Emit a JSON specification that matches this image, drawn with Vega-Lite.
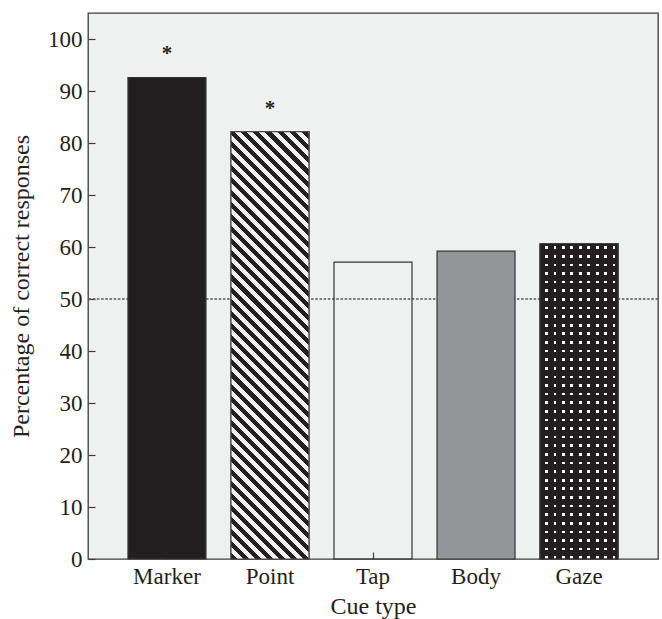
{
  "$schema": "https://vega.github.io/schema/vega-lite/v6.json",
  "width": 570,
  "height": 546,
  "autosize": {"type": "none"},
  "padding": {"left": 88, "top": 13, "right": 4, "bottom": 60},
  "background": "white",
  "config": {
    "font": "Liberation Serif",
    "view": {"fill": "#eff1f0", "stroke": "#3c3c3c", "strokeWidth": 1.3},
    "axis": {
      "domain": false, "grid": false, "tickColor": "#3c3c3c", "tickWidth": 1.2, "tickSize": -7,
      "labelFont": "Liberation Serif", "labelFontSize": 23, "labelColor": "#231f20",
      "titleFont": "Liberation Serif", "titleFontSize": 24, "titleFontWeight": "normal", "titleColor": "#231f20"
    }
  },
  "layer": [
    {
      "data": {"values": [{"ref": 50}]},
      "mark": {"type": "rule", "color": "#555555", "strokeWidth": 1.3, "strokeDash": [2.5, 1.7]},
      "encoding": {
        "y": {"field": "ref", "type": "quantitative", "scale": {"domain": [0, 105], "nice": false},
          "axis": {"title": "Percentage of correct responses", "values": [0, 10, 20, 30, 40, 50, 60, 70, 80, 90, 100], "labelPadding": 13, "titlePadding": 14}}
      }
    },
    {
      "data": {"values": [
        {"cue": "Marker", "pct": 92.6, "sig": "*"},
        {"cue": "Point", "pct": 82.2, "sig": "*"},
        {"cue": "Tap", "pct": 57.1, "sig": ""},
        {"cue": "Body", "pct": 59.2, "sig": ""},
        {"cue": "Gaze", "pct": 60.6, "sig": ""}
      ]},
      "encoding": {
        "x": {"field": "cue", "type": "nominal", "sort": null,
          "scale": {"domain": ["Marker", "Point", "Tap", "Body", "Gaze"], "paddingInner": 0.243, "paddingOuter": 0.388},
          "axis": {"title": "Cue type", "labelAngle": 0, "labelPadding": 13, "titlePadding": 6}},
        "y": {"field": "pct", "type": "quantitative", "scale": {"domain": [0, 105], "nice": false},
          "axis": {"title": "Percentage of correct responses", "values": [0, 10, 20, 30, 40, 50, 60, 70, 80, 90, 100], "labelPadding": 13, "titlePadding": 14}}
      },
      "layer": [
        {
          "mark": {"type": "bar", "stroke": "#333333", "strokeWidth": 1.2},
          "encoding": {
            "fill": {"field": "cue", "type": "nominal", "legend": null,
              "scale": {"domain": ["Marker", "Point", "Tap", "Body", "Gaze"], "range": ["#231f20", "#f0f1f0", "transparent", "#939598", "#ffffff"]}}
          }
        },
        {
          "transform": [{"filter": "datum.cue === 'Point'"}],
          "mark": {"type": "bar", "stroke": "#4a4a4a", "strokeWidth": 1.2,
            "fill": {"gradient": "linear", "x1": 0, "y1": 1, "x2": 0.2088, "y2": -0.1444, "stops": [
              {"offset": 0, "color": "#231f20"},
              {"offset": 0.012, "color": "#231f20"}, {"offset": 0.012, "color": "#f0f1f0"},
              {"offset": 0.024, "color": "#f0f1f0"}, {"offset": 0.024, "color": "#231f20"},
              {"offset": 0.036, "color": "#231f20"}, {"offset": 0.036, "color": "#f0f1f0"},
              {"offset": 0.048, "color": "#f0f1f0"}, {"offset": 0.048, "color": "#231f20"},
              {"offset": 0.06, "color": "#231f20"}, {"offset": 0.06, "color": "#f0f1f0"},
              {"offset": 0.072, "color": "#f0f1f0"}, {"offset": 0.072, "color": "#231f20"},
              {"offset": 0.084, "color": "#231f20"}, {"offset": 0.084, "color": "#f0f1f0"},
              {"offset": 0.096, "color": "#f0f1f0"}, {"offset": 0.096, "color": "#231f20"},
              {"offset": 0.108, "color": "#231f20"}, {"offset": 0.108, "color": "#f0f1f0"},
              {"offset": 0.12, "color": "#f0f1f0"}, {"offset": 0.12, "color": "#231f20"},
              {"offset": 0.132, "color": "#231f20"}, {"offset": 0.132, "color": "#f0f1f0"},
              {"offset": 0.144, "color": "#f0f1f0"}, {"offset": 0.144, "color": "#231f20"},
              {"offset": 0.156, "color": "#231f20"}, {"offset": 0.156, "color": "#f0f1f0"},
              {"offset": 0.168, "color": "#f0f1f0"}, {"offset": 0.168, "color": "#231f20"},
              {"offset": 0.18, "color": "#231f20"}, {"offset": 0.18, "color": "#f0f1f0"},
              {"offset": 0.192, "color": "#f0f1f0"}, {"offset": 0.192, "color": "#231f20"},
              {"offset": 0.204, "color": "#231f20"}, {"offset": 0.204, "color": "#f0f1f0"},
              {"offset": 0.216, "color": "#f0f1f0"}, {"offset": 0.216, "color": "#231f20"},
              {"offset": 0.228, "color": "#231f20"}, {"offset": 0.228, "color": "#f0f1f0"},
              {"offset": 0.24, "color": "#f0f1f0"}, {"offset": 0.24, "color": "#231f20"},
              {"offset": 0.252, "color": "#231f20"}, {"offset": 0.252, "color": "#f0f1f0"},
              {"offset": 0.264, "color": "#f0f1f0"}, {"offset": 0.264, "color": "#231f20"},
              {"offset": 0.276, "color": "#231f20"}, {"offset": 0.276, "color": "#f0f1f0"},
              {"offset": 0.288, "color": "#f0f1f0"}, {"offset": 0.288, "color": "#231f20"},
              {"offset": 0.3, "color": "#231f20"}, {"offset": 0.3, "color": "#f0f1f0"},
              {"offset": 0.312, "color": "#f0f1f0"}, {"offset": 0.312, "color": "#231f20"},
              {"offset": 0.324, "color": "#231f20"}, {"offset": 0.324, "color": "#f0f1f0"},
              {"offset": 0.336, "color": "#f0f1f0"}, {"offset": 0.336, "color": "#231f20"},
              {"offset": 0.348, "color": "#231f20"}, {"offset": 0.348, "color": "#f0f1f0"},
              {"offset": 0.36, "color": "#f0f1f0"}, {"offset": 0.36, "color": "#231f20"},
              {"offset": 0.372, "color": "#231f20"}, {"offset": 0.372, "color": "#f0f1f0"},
              {"offset": 0.384, "color": "#f0f1f0"}, {"offset": 0.384, "color": "#231f20"},
              {"offset": 0.396, "color": "#231f20"}, {"offset": 0.396, "color": "#f0f1f0"},
              {"offset": 0.408, "color": "#f0f1f0"}, {"offset": 0.408, "color": "#231f20"},
              {"offset": 0.42, "color": "#231f20"}, {"offset": 0.42, "color": "#f0f1f0"},
              {"offset": 0.432, "color": "#f0f1f0"}, {"offset": 0.432, "color": "#231f20"},
              {"offset": 0.444, "color": "#231f20"}, {"offset": 0.444, "color": "#f0f1f0"},
              {"offset": 0.456, "color": "#f0f1f0"}, {"offset": 0.456, "color": "#231f20"},
              {"offset": 0.468, "color": "#231f20"}, {"offset": 0.468, "color": "#f0f1f0"},
              {"offset": 0.48, "color": "#f0f1f0"}, {"offset": 0.48, "color": "#231f20"},
              {"offset": 0.492, "color": "#231f20"}, {"offset": 0.492, "color": "#f0f1f0"},
              {"offset": 0.504, "color": "#f0f1f0"}, {"offset": 0.504, "color": "#231f20"},
              {"offset": 0.516, "color": "#231f20"}, {"offset": 0.516, "color": "#f0f1f0"},
              {"offset": 0.528, "color": "#f0f1f0"}, {"offset": 0.528, "color": "#231f20"},
              {"offset": 0.54, "color": "#231f20"}, {"offset": 0.54, "color": "#f0f1f0"},
              {"offset": 0.552, "color": "#f0f1f0"}, {"offset": 0.552, "color": "#231f20"},
              {"offset": 0.564, "color": "#231f20"}, {"offset": 0.564, "color": "#f0f1f0"},
              {"offset": 0.576, "color": "#f0f1f0"}, {"offset": 0.576, "color": "#231f20"},
              {"offset": 0.588, "color": "#231f20"}, {"offset": 0.588, "color": "#f0f1f0"},
              {"offset": 0.6, "color": "#f0f1f0"}, {"offset": 0.6, "color": "#231f20"},
              {"offset": 0.612, "color": "#231f20"}, {"offset": 0.612, "color": "#f0f1f0"},
              {"offset": 0.624, "color": "#f0f1f0"}, {"offset": 0.624, "color": "#231f20"},
              {"offset": 0.636, "color": "#231f20"}, {"offset": 0.636, "color": "#f0f1f0"},
              {"offset": 0.648, "color": "#f0f1f0"}, {"offset": 0.648, "color": "#231f20"},
              {"offset": 0.66, "color": "#231f20"}, {"offset": 0.66, "color": "#f0f1f0"},
              {"offset": 0.672, "color": "#f0f1f0"}, {"offset": 0.672, "color": "#231f20"},
              {"offset": 0.684, "color": "#231f20"}, {"offset": 0.684, "color": "#f0f1f0"},
              {"offset": 0.696, "color": "#f0f1f0"}, {"offset": 0.696, "color": "#231f20"},
              {"offset": 0.708, "color": "#231f20"}, {"offset": 0.708, "color": "#f0f1f0"},
              {"offset": 0.72, "color": "#f0f1f0"}, {"offset": 0.72, "color": "#231f20"},
              {"offset": 0.732, "color": "#231f20"}, {"offset": 0.732, "color": "#f0f1f0"},
              {"offset": 0.744, "color": "#f0f1f0"}, {"offset": 0.744, "color": "#231f20"},
              {"offset": 0.756, "color": "#231f20"}, {"offset": 0.756, "color": "#f0f1f0"},
              {"offset": 0.768, "color": "#f0f1f0"}, {"offset": 0.768, "color": "#231f20"},
              {"offset": 0.78, "color": "#231f20"}, {"offset": 0.78, "color": "#f0f1f0"},
              {"offset": 0.792, "color": "#f0f1f0"}, {"offset": 0.792, "color": "#231f20"},
              {"offset": 0.804, "color": "#231f20"}, {"offset": 0.804, "color": "#f0f1f0"},
              {"offset": 0.816, "color": "#f0f1f0"}, {"offset": 0.816, "color": "#231f20"},
              {"offset": 0.828, "color": "#231f20"}, {"offset": 0.828, "color": "#f0f1f0"},
              {"offset": 0.84, "color": "#f0f1f0"}, {"offset": 0.84, "color": "#231f20"},
              {"offset": 0.852, "color": "#231f20"}, {"offset": 0.852, "color": "#f0f1f0"},
              {"offset": 0.864, "color": "#f0f1f0"}, {"offset": 0.864, "color": "#231f20"},
              {"offset": 0.876, "color": "#231f20"}, {"offset": 0.876, "color": "#f0f1f0"},
              {"offset": 0.888, "color": "#f0f1f0"}, {"offset": 0.888, "color": "#231f20"},
              {"offset": 0.9, "color": "#231f20"}, {"offset": 0.9, "color": "#f0f1f0"},
              {"offset": 0.912, "color": "#f0f1f0"}, {"offset": 0.912, "color": "#231f20"},
              {"offset": 0.924, "color": "#231f20"}, {"offset": 0.924, "color": "#f0f1f0"},
              {"offset": 0.936, "color": "#f0f1f0"}, {"offset": 0.936, "color": "#231f20"},
              {"offset": 0.948, "color": "#231f20"}, {"offset": 0.948, "color": "#f0f1f0"},
              {"offset": 0.96, "color": "#f0f1f0"}, {"offset": 0.96, "color": "#231f20"},
              {"offset": 0.972, "color": "#231f20"}, {"offset": 0.972, "color": "#f0f1f0"},
              {"offset": 0.984, "color": "#f0f1f0"}, {"offset": 0.984, "color": "#231f20"},
              {"offset": 0.996, "color": "#231f20"}, {"offset": 0.996, "color": "#f0f1f0"},
              {"offset": 1, "color": "#f0f1f0"}
            ]}
          }
        },
        {
          "transform": [{"filter": "datum.cue === 'Gaze'"}],
          "mark": {"type": "bar", "strokeWidth": 0,
            "fill": {"gradient": "linear", "x1": 0, "y1": 0, "x2": 1, "y2": 0, "stops": [
              {"offset": 0, "color": "#231f20"},
              {"offset": 0.0641, "color": "#231f20"}, {"offset": 0.0641, "color": "rgba(35,31,32,0)"}, {"offset": 0.0987, "color": "rgba(35,31,32,0)"}, {"offset": 0.0987, "color": "#231f20"},
              {"offset": 0.1727, "color": "#231f20"}, {"offset": 0.1727, "color": "rgba(35,31,32,0)"}, {"offset": 0.2073, "color": "rgba(35,31,32,0)"}, {"offset": 0.2073, "color": "#231f20"},
              {"offset": 0.2813, "color": "#231f20"}, {"offset": 0.2813, "color": "rgba(35,31,32,0)"}, {"offset": 0.3159, "color": "rgba(35,31,32,0)"}, {"offset": 0.3159, "color": "#231f20"},
              {"offset": 0.3899, "color": "#231f20"}, {"offset": 0.3899, "color": "rgba(35,31,32,0)"}, {"offset": 0.4245, "color": "rgba(35,31,32,0)"}, {"offset": 0.4245, "color": "#231f20"},
              {"offset": 0.4985, "color": "#231f20"}, {"offset": 0.4985, "color": "rgba(35,31,32,0)"}, {"offset": 0.5331, "color": "rgba(35,31,32,0)"}, {"offset": 0.5331, "color": "#231f20"},
              {"offset": 0.6071, "color": "#231f20"}, {"offset": 0.6071, "color": "rgba(35,31,32,0)"}, {"offset": 0.6417, "color": "rgba(35,31,32,0)"}, {"offset": 0.6417, "color": "#231f20"},
              {"offset": 0.7157, "color": "#231f20"}, {"offset": 0.7157, "color": "rgba(35,31,32,0)"}, {"offset": 0.7503, "color": "rgba(35,31,32,0)"}, {"offset": 0.7503, "color": "#231f20"},
              {"offset": 0.8243, "color": "#231f20"}, {"offset": 0.8243, "color": "rgba(35,31,32,0)"}, {"offset": 0.8589, "color": "rgba(35,31,32,0)"}, {"offset": 0.8589, "color": "#231f20"},
              {"offset": 0.9329, "color": "#231f20"}, {"offset": 0.9329, "color": "rgba(35,31,32,0)"}, {"offset": 0.9675, "color": "rgba(35,31,32,0)"}, {"offset": 0.9675, "color": "#231f20"},
              {"offset": 1, "color": "#231f20"}
            ]}
          }
        },
        {
          "transform": [{"filter": "datum.cue === 'Gaze'"}],
          "mark": {"type": "bar", "stroke": "#333333", "strokeWidth": 1.2,
            "fill": {"gradient": "linear", "x1": 0, "y1": 0, "x2": 0, "y2": 1, "stops": [
              {"offset": 0, "color": "#231f20"},
              {"offset": 0.0076, "color": "#231f20"}, {"offset": 0.0076, "color": "rgba(35,31,32,0)"}, {"offset": 0.0162, "color": "rgba(35,31,32,0)"}, {"offset": 0.0162, "color": "#231f20"},
              {"offset": 0.0350, "color": "#231f20"}, {"offset": 0.0350, "color": "rgba(35,31,32,0)"}, {"offset": 0.0435, "color": "rgba(35,31,32,0)"}, {"offset": 0.0435, "color": "#231f20"},
              {"offset": 0.0623, "color": "#231f20"}, {"offset": 0.0623, "color": "rgba(35,31,32,0)"}, {"offset": 0.0709, "color": "rgba(35,31,32,0)"}, {"offset": 0.0709, "color": "#231f20"},
              {"offset": 0.0896, "color": "#231f20"}, {"offset": 0.0896, "color": "rgba(35,31,32,0)"}, {"offset": 0.0982, "color": "rgba(35,31,32,0)"}, {"offset": 0.0982, "color": "#231f20"},
              {"offset": 0.1170, "color": "#231f20"}, {"offset": 0.1170, "color": "rgba(35,31,32,0)"}, {"offset": 0.1255, "color": "rgba(35,31,32,0)"}, {"offset": 0.1255, "color": "#231f20"},
              {"offset": 0.1443, "color": "#231f20"}, {"offset": 0.1443, "color": "rgba(35,31,32,0)"}, {"offset": 0.1529, "color": "rgba(35,31,32,0)"}, {"offset": 0.1529, "color": "#231f20"},
              {"offset": 0.1717, "color": "#231f20"}, {"offset": 0.1717, "color": "rgba(35,31,32,0)"}, {"offset": 0.1802, "color": "rgba(35,31,32,0)"}, {"offset": 0.1802, "color": "#231f20"},
              {"offset": 0.1990, "color": "#231f20"}, {"offset": 0.1990, "color": "rgba(35,31,32,0)"}, {"offset": 0.2075, "color": "rgba(35,31,32,0)"}, {"offset": 0.2075, "color": "#231f20"},
              {"offset": 0.2263, "color": "#231f20"}, {"offset": 0.2263, "color": "rgba(35,31,32,0)"}, {"offset": 0.2349, "color": "rgba(35,31,32,0)"}, {"offset": 0.2349, "color": "#231f20"},
              {"offset": 0.2537, "color": "#231f20"}, {"offset": 0.2537, "color": "rgba(35,31,32,0)"}, {"offset": 0.2622, "color": "rgba(35,31,32,0)"}, {"offset": 0.2622, "color": "#231f20"},
              {"offset": 0.2810, "color": "#231f20"}, {"offset": 0.2810, "color": "rgba(35,31,32,0)"}, {"offset": 0.2896, "color": "rgba(35,31,32,0)"}, {"offset": 0.2896, "color": "#231f20"},
              {"offset": 0.3083, "color": "#231f20"}, {"offset": 0.3083, "color": "rgba(35,31,32,0)"}, {"offset": 0.3169, "color": "rgba(35,31,32,0)"}, {"offset": 0.3169, "color": "#231f20"},
              {"offset": 0.3357, "color": "#231f20"}, {"offset": 0.3357, "color": "rgba(35,31,32,0)"}, {"offset": 0.3442, "color": "rgba(35,31,32,0)"}, {"offset": 0.3442, "color": "#231f20"},
              {"offset": 0.3630, "color": "#231f20"}, {"offset": 0.3630, "color": "rgba(35,31,32,0)"}, {"offset": 0.3716, "color": "rgba(35,31,32,0)"}, {"offset": 0.3716, "color": "#231f20"},
              {"offset": 0.3904, "color": "#231f20"}, {"offset": 0.3904, "color": "rgba(35,31,32,0)"}, {"offset": 0.3989, "color": "rgba(35,31,32,0)"}, {"offset": 0.3989, "color": "#231f20"},
              {"offset": 0.4177, "color": "#231f20"}, {"offset": 0.4177, "color": "rgba(35,31,32,0)"}, {"offset": 0.4262, "color": "rgba(35,31,32,0)"}, {"offset": 0.4262, "color": "#231f20"},
              {"offset": 0.4450, "color": "#231f20"}, {"offset": 0.4450, "color": "rgba(35,31,32,0)"}, {"offset": 0.4536, "color": "rgba(35,31,32,0)"}, {"offset": 0.4536, "color": "#231f20"},
              {"offset": 0.4724, "color": "#231f20"}, {"offset": 0.4724, "color": "rgba(35,31,32,0)"}, {"offset": 0.4809, "color": "rgba(35,31,32,0)"}, {"offset": 0.4809, "color": "#231f20"},
              {"offset": 0.4997, "color": "#231f20"}, {"offset": 0.4997, "color": "rgba(35,31,32,0)"}, {"offset": 0.5083, "color": "rgba(35,31,32,0)"}, {"offset": 0.5083, "color": "#231f20"},
              {"offset": 0.5271, "color": "#231f20"}, {"offset": 0.5271, "color": "rgba(35,31,32,0)"}, {"offset": 0.5356, "color": "rgba(35,31,32,0)"}, {"offset": 0.5356, "color": "#231f20"},
              {"offset": 0.5544, "color": "#231f20"}, {"offset": 0.5544, "color": "rgba(35,31,32,0)"}, {"offset": 0.5629, "color": "rgba(35,31,32,0)"}, {"offset": 0.5629, "color": "#231f20"},
              {"offset": 0.5817, "color": "#231f20"}, {"offset": 0.5817, "color": "rgba(35,31,32,0)"}, {"offset": 0.5903, "color": "rgba(35,31,32,0)"}, {"offset": 0.5903, "color": "#231f20"},
              {"offset": 0.6091, "color": "#231f20"}, {"offset": 0.6091, "color": "rgba(35,31,32,0)"}, {"offset": 0.6176, "color": "rgba(35,31,32,0)"}, {"offset": 0.6176, "color": "#231f20"},
              {"offset": 0.6364, "color": "#231f20"}, {"offset": 0.6364, "color": "rgba(35,31,32,0)"}, {"offset": 0.6449, "color": "rgba(35,31,32,0)"}, {"offset": 0.6449, "color": "#231f20"},
              {"offset": 0.6638, "color": "#231f20"}, {"offset": 0.6638, "color": "rgba(35,31,32,0)"}, {"offset": 0.6723, "color": "rgba(35,31,32,0)"}, {"offset": 0.6723, "color": "#231f20"},
              {"offset": 0.6911, "color": "#231f20"}, {"offset": 0.6911, "color": "rgba(35,31,32,0)"}, {"offset": 0.6996, "color": "rgba(35,31,32,0)"}, {"offset": 0.6996, "color": "#231f20"},
              {"offset": 0.7184, "color": "#231f20"}, {"offset": 0.7184, "color": "rgba(35,31,32,0)"}, {"offset": 0.7270, "color": "rgba(35,31,32,0)"}, {"offset": 0.7270, "color": "#231f20"},
              {"offset": 0.7458, "color": "#231f20"}, {"offset": 0.7458, "color": "rgba(35,31,32,0)"}, {"offset": 0.7543, "color": "rgba(35,31,32,0)"}, {"offset": 0.7543, "color": "#231f20"},
              {"offset": 0.7731, "color": "#231f20"}, {"offset": 0.7731, "color": "rgba(35,31,32,0)"}, {"offset": 0.7816, "color": "rgba(35,31,32,0)"}, {"offset": 0.7816, "color": "#231f20"},
              {"offset": 0.8005, "color": "#231f20"}, {"offset": 0.8005, "color": "rgba(35,31,32,0)"}, {"offset": 0.8090, "color": "rgba(35,31,32,0)"}, {"offset": 0.8090, "color": "#231f20"},
              {"offset": 0.8278, "color": "#231f20"}, {"offset": 0.8278, "color": "rgba(35,31,32,0)"}, {"offset": 0.8363, "color": "rgba(35,31,32,0)"}, {"offset": 0.8363, "color": "#231f20"},
              {"offset": 0.8551, "color": "#231f20"}, {"offset": 0.8551, "color": "rgba(35,31,32,0)"}, {"offset": 0.8636, "color": "rgba(35,31,32,0)"}, {"offset": 0.8636, "color": "#231f20"},
              {"offset": 0.8825, "color": "#231f20"}, {"offset": 0.8825, "color": "rgba(35,31,32,0)"}, {"offset": 0.8910, "color": "rgba(35,31,32,0)"}, {"offset": 0.8910, "color": "#231f20"},
              {"offset": 0.9098, "color": "#231f20"}, {"offset": 0.9098, "color": "rgba(35,31,32,0)"}, {"offset": 0.9183, "color": "rgba(35,31,32,0)"}, {"offset": 0.9183, "color": "#231f20"},
              {"offset": 0.9371, "color": "#231f20"}, {"offset": 0.9371, "color": "rgba(35,31,32,0)"}, {"offset": 0.9457, "color": "rgba(35,31,32,0)"}, {"offset": 0.9457, "color": "#231f20"},
              {"offset": 0.9645, "color": "#231f20"}, {"offset": 0.9645, "color": "rgba(35,31,32,0)"}, {"offset": 0.9730, "color": "rgba(35,31,32,0)"}, {"offset": 0.9730, "color": "#231f20"},
              {"offset": 0.9918, "color": "#231f20"}, {"offset": 0.9918, "color": "rgba(35,31,32,0)"}, {"offset": 1, "color": "rgba(35,31,32,0)"}
            ]}
          }
        },
        {
          "mark": {"type": "text", "baseline": "alphabetic", "dy": -17, "fontSize": 21, "fontWeight": "bold", "color": "#231f20"},
          "encoding": {"text": {"field": "sig", "type": "nominal"}}
        }
      ]
    }
  ]
}
